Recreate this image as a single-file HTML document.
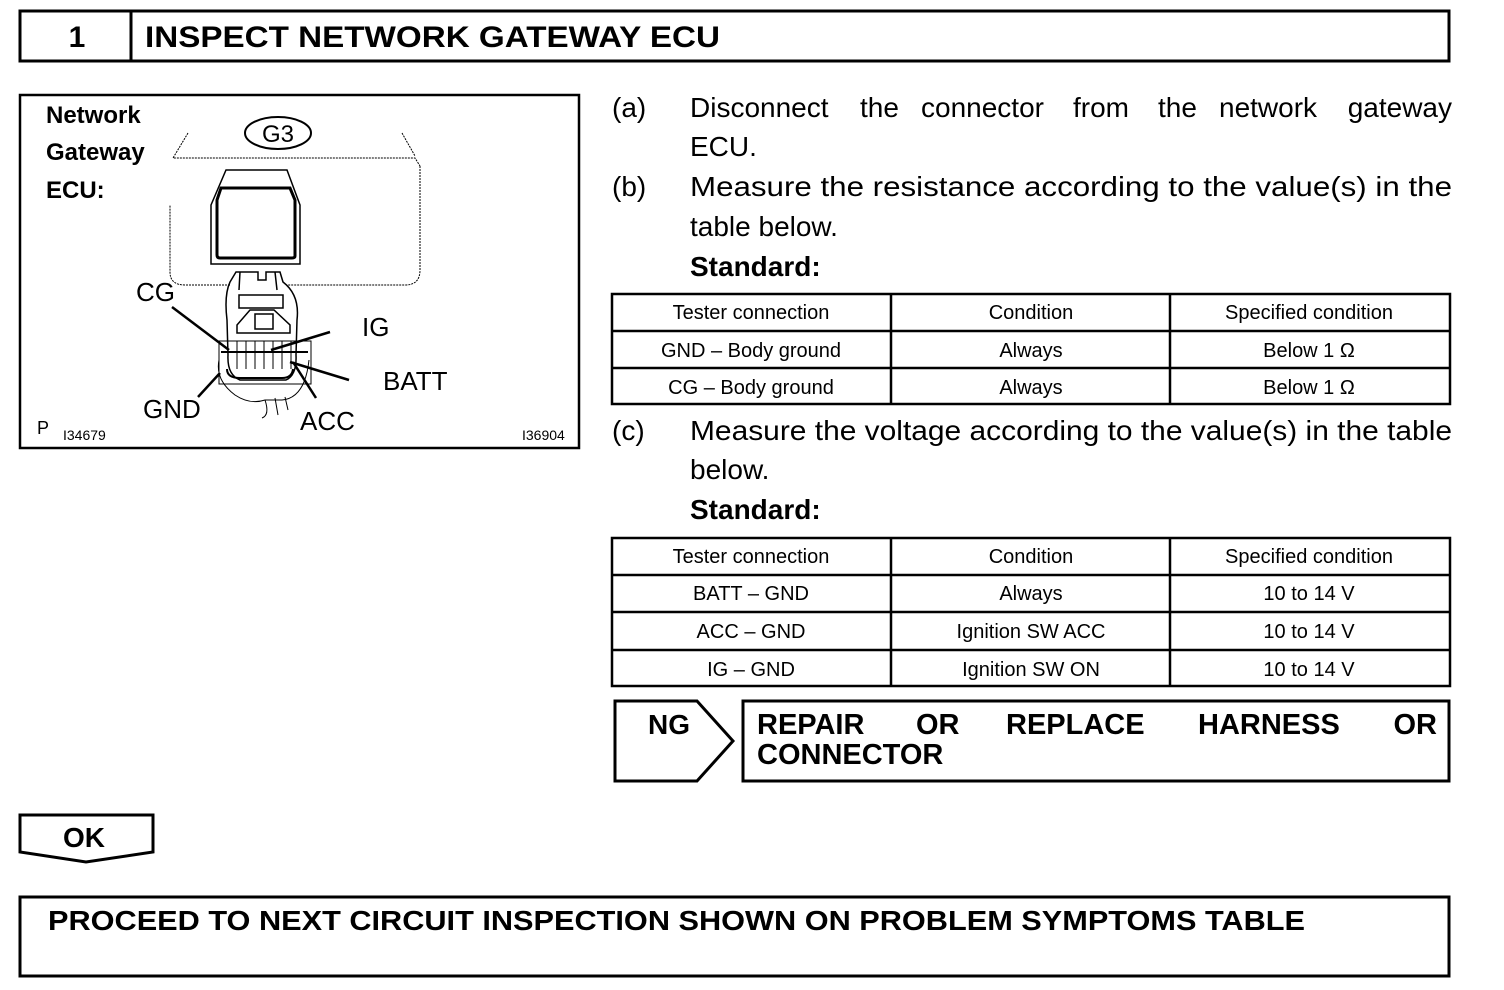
<!DOCTYPE html>
<html><head><meta charset="utf-8"><style>
html,body{margin:0;padding:0;background:#fff;}
svg{display:block;}
text{font-family:"Liberation Sans",Arial,sans-serif;fill:#000;}
.b{font-weight:bold;}
</style></head><body>
<svg width="1504" height="990" viewBox="0 0 1504 990" xmlns="http://www.w3.org/2000/svg">
<!-- header -->
<rect x="20" y="11" width="1429" height="50" fill="none" stroke="#000" stroke-width="3"/>
<line x1="131" y1="11" x2="131" y2="61" stroke="#000" stroke-width="3"/>
<text x="77" y="47" class="b" font-size="30" text-anchor="middle">1</text>
<text x="145" y="47" class="b" font-size="30" textLength="575" lengthAdjust="spacingAndGlyphs">INSPECT NETWORK GATEWAY ECU</text>

<!-- figure -->
<rect x="20" y="95" width="559" height="353" fill="none" stroke="#000" stroke-width="2.5"/>
<text x="46" y="123" class="b" font-size="24">Network</text>
<text x="46" y="160" class="b" font-size="24">Gateway</text>
<text x="46" y="198" class="b" font-size="24">ECU:</text>
<ellipse cx="278" cy="133" rx="33" ry="16" fill="none" stroke="#000" stroke-width="2"/>
<text x="278" y="142" font-size="24" text-anchor="middle">G3</text>
<g fill="none" stroke="#000" stroke-width="1" stroke-dasharray="2,1">
<path d="M188,133 L173,158 L415,158 L420,166"/>
<path d="M402,133 L415,156"/>
<path d="M420,166 L420,270 Q420,285 405,285 L288,285"/>
<path d="M230,285 L185,285 Q170,285 170,272 L170,205"/>
</g>
<g fill="none" stroke="#000" stroke-width="2">
<path d="M226,170 L287,170 L300,205 L300,264 L211,264 L211,205 Z" stroke-width="1.5"/>
<path d="M221,188 L290,188 L295,200 L295,256 Q295,258 292,258 L220,258 Q217,258 217,255 L217,200 Z" stroke-width="3"/>
<path d="M230,282 L236,272 L258,272 L258,280 L266,280 L266,272 L280,272 L283,282 Q300,295 297,320 L296,355 Q297,375 286,380 L240,380 Q227,375 228,355 L227,320 Q224,295 230,282 Z" stroke-width="1.5"/>
<path d="M239,290 L240,272 M277,290 L275,272" stroke-width="1.5"/>
<rect x="239" y="295" width="44" height="13" stroke-width="1.5"/>
<path d="M237,325 L250,310 L274,310 L290,325 L290,333 L237,333 Z" stroke-width="1.5"/>
<rect x="255" y="314" width="18" height="15" stroke-width="1.5"/>
<rect x="219" y="341" width="92" height="43" stroke-width="1"/>
<line x1="221" y1="352" x2="308" y2="352" stroke-width="2"/>
<path d="M227,369 Q227,378 240,378 L282,378 Q292,378 293,369" stroke-width="2"/>
<path d="M237,341 L237,369 M246,341 L246,369 M255,341 L255,369 M264,341 L264,369 M273,341 L273,369 M282,341 L282,369 M291,341 L291,369" stroke-width="1"/>
<path d="M219,360 Q215,380 235,395 Q250,405 265,400 L282,400 Q305,398 309,360" stroke-width="1"/>
<path d="M265,400 Q270,415 262,418 M275,398 L278,415 M285,397 L288,410" stroke-width="1"/>
</g>
<g stroke="#000" stroke-width="2.5">
<line x1="172" y1="307" x2="229" y2="350"/>
<line x1="330" y1="332" x2="271" y2="350"/>
<line x1="349" y1="380" x2="290" y2="362"/>
<line x1="316" y1="398" x2="293" y2="362"/>
<line x1="198" y1="397" x2="220" y2="373"/>
</g>
<text x="136" y="301" font-size="26">CG</text>
<text x="362" y="336" font-size="26">IG</text>
<text x="383" y="390" font-size="26">BATT</text>
<text x="143" y="418" font-size="26">GND</text>
<text x="300" y="430" font-size="26">ACC</text>
<text x="37" y="434" font-size="18">P</text>
<text x="63" y="440" font-size="14">I34679</text>
<text x="522" y="440" font-size="14">I36904</text>

<!-- text -->
<g font-size="28">
<text x="612" y="117">(a)</text>
<text x="690" y="117">Disconnect</text>
<text x="860" y="117">the</text>
<text x="921" y="117">connector</text>
<text x="1073" y="117">from</text>
<text x="1158" y="117">the</text>
<text x="1219" y="117">network</text>
<text x="1452" y="117" text-anchor="end">gateway</text>
<text x="690" y="156">ECU.</text>
<text x="612" y="196">(b)</text>
<text x="690" y="196" textLength="762" lengthAdjust="spacingAndGlyphs">Measure the resistance according to the value(s) in the</text>
<text x="690" y="236">table below.</text>
<text x="690" y="276" class="b">Standard:</text>
<text x="612" y="440">(c)</text>
<text x="690" y="440" textLength="762" lengthAdjust="spacingAndGlyphs">Measure the voltage according to the value(s) in the table</text>
<text x="690" y="479">below.</text>
<text x="690" y="519" class="b">Standard:</text>
</g>

<!-- tables -->
<g fill="none" stroke="#000" stroke-width="2.5">
<rect x="612" y="294" width="838" height="110"/>
<line x1="612" y1="331" x2="1450" y2="331"/>
<line x1="612" y1="368" x2="1450" y2="368"/>
<line x1="891" y1="294" x2="891" y2="404"/>
<line x1="1170" y1="294" x2="1170" y2="404"/>
<rect x="612" y="538" width="838" height="148"/>
<line x1="612" y1="575" x2="1450" y2="575"/>
<line x1="612" y1="612" x2="1450" y2="612"/>
<line x1="612" y1="650" x2="1450" y2="650"/>
<line x1="891" y1="538" x2="891" y2="686"/>
<line x1="1170" y1="538" x2="1170" y2="686"/>
</g>
<g font-size="20" text-anchor="middle">
<text x="751" y="319">Tester connection</text><text x="1031" y="319">Condition</text><text x="1309" y="319">Specified condition</text>
<text x="751" y="357">GND – Body ground</text><text x="1031" y="357">Always</text><text x="1309" y="357">Below 1 Ω</text>
<text x="751" y="394">CG – Body ground</text><text x="1031" y="394">Always</text><text x="1309" y="394">Below 1 Ω</text>
<text x="751" y="563">Tester connection</text><text x="1031" y="563">Condition</text><text x="1309" y="563">Specified condition</text>
<text x="751" y="600">BATT – GND</text><text x="1031" y="600">Always</text><text x="1309" y="600">10 to 14 V</text>
<text x="751" y="638">ACC – GND</text><text x="1031" y="638">Ignition SW ACC</text><text x="1309" y="638">10 to 14 V</text>
<text x="751" y="676">IG – GND</text><text x="1031" y="676">Ignition SW ON</text><text x="1309" y="676">10 to 14 V</text>
</g>

<!-- NG -->
<path d="M615,701 L697,701 L733,741 L697,781 L615,781 Z" fill="none" stroke="#000" stroke-width="3"/>
<text x="648" y="734" class="b" font-size="28">NG</text>
<rect x="743" y="701" width="706" height="80" fill="none" stroke="#000" stroke-width="3"/>
<g class="b" font-size="29">
<text x="757" y="734">REPAIR</text>
<text x="916" y="734">OR</text>
<text x="1006" y="734">REPLACE</text>
<text x="1198" y="734">HARNESS</text>
<text x="1437" y="734" text-anchor="end">OR</text>
<text x="757" y="764">CONNECTOR</text>
</g>

<!-- OK -->
<path d="M20,815 L153,815 L153,852 L86,862 L20,852 Z" fill="none" stroke="#000" stroke-width="3"/>
<text x="84" y="847" class="b" font-size="28" text-anchor="middle">OK</text>

<!-- final -->
<rect x="20" y="897" width="1429" height="79" fill="none" stroke="#000" stroke-width="3"/>
<text x="48" y="930" class="b" font-size="28" textLength="1257" lengthAdjust="spacingAndGlyphs">PROCEED TO NEXT CIRCUIT INSPECTION SHOWN ON PROBLEM SYMPTOMS TABLE</text>
</svg>
</body></html>
